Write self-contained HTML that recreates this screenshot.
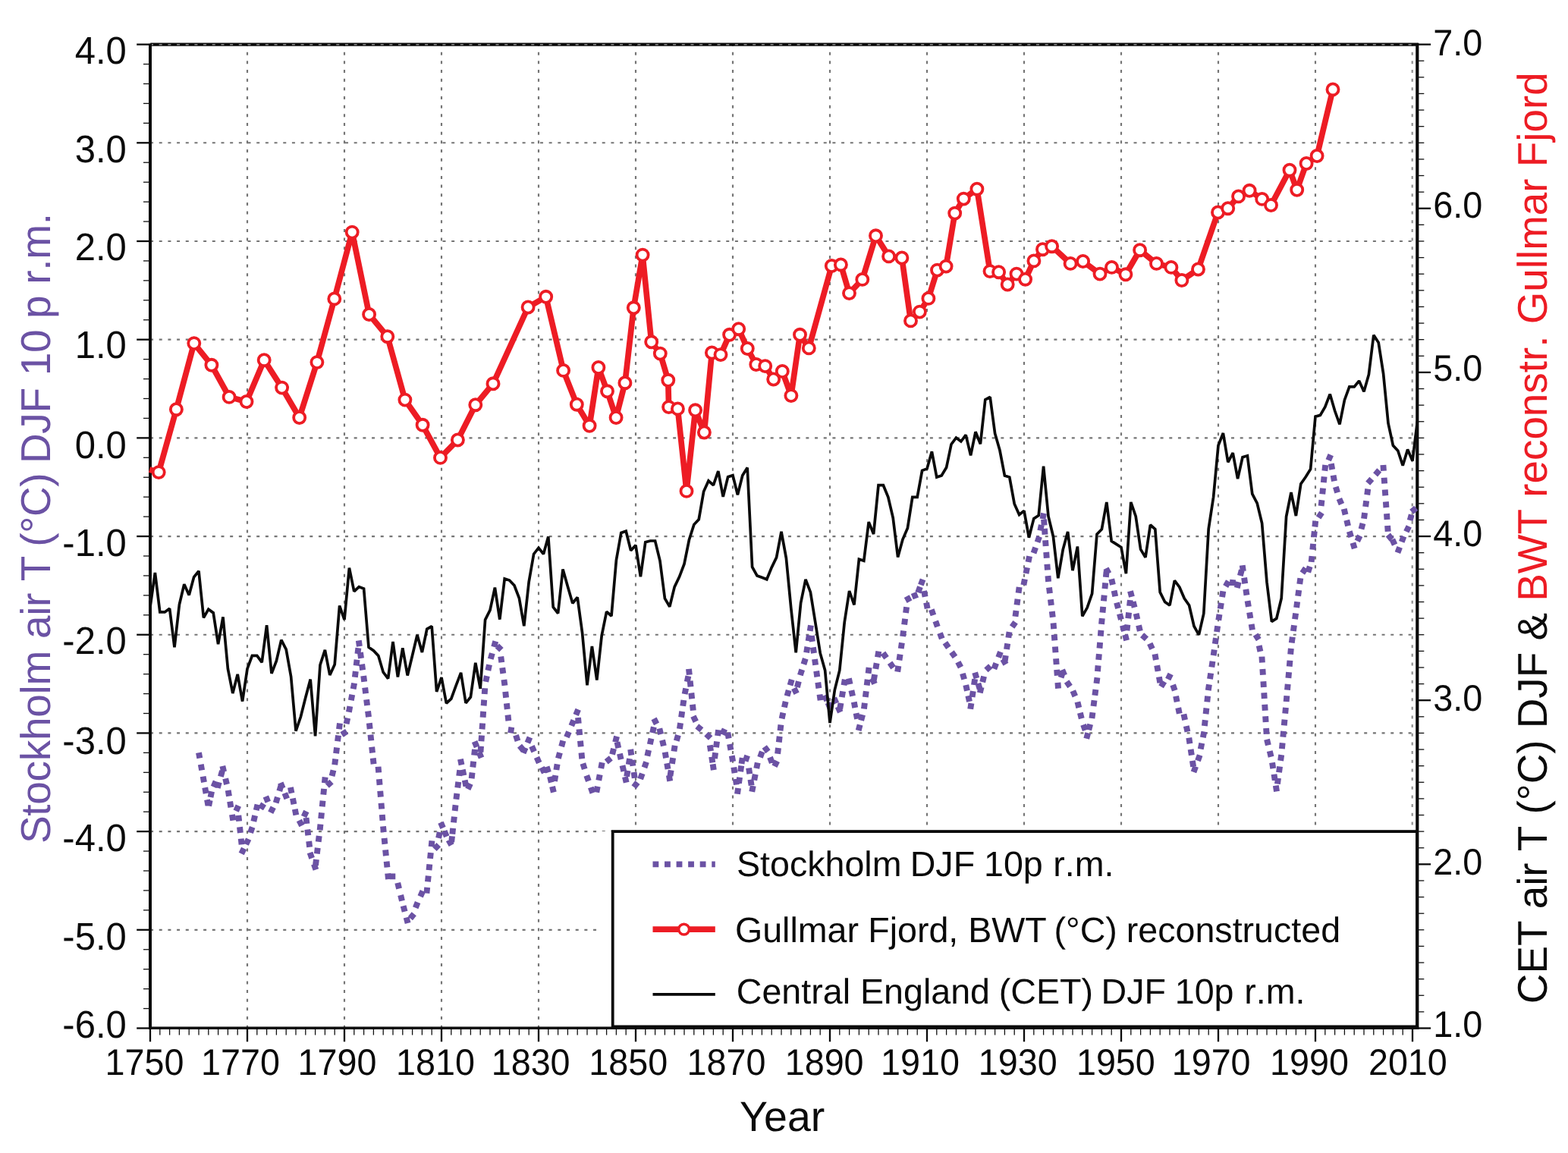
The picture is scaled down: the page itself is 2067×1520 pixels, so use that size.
<!DOCTYPE html>
<html lang="en"><head><meta charset="utf-8"><title>Winter temperatures: Stockholm, Central England and Gullmar Fjord</title>
<style>html,body{margin:0;padding:0;background:#fff}body{width:2067px;height:1520px;overflow:hidden}svg{display:block}text{font-family:"Liberation Sans",Arial,Helvetica,sans-serif;font-kerning:none;text-rendering:geometricPrecision}</style>
</head><body>
<svg width="2067" height="1520" viewBox="0 0 2067 1520">
<rect x="0" y="0" width="2067" height="1520" fill="#fff"/>
<g stroke="#757575" stroke-width="2.15" stroke-dasharray="4 7.68" fill="none">
<line x1="198.05" y1="58.60" x2="1868.3" y2="58.60"/>
<line x1="198.05" y1="188.29" x2="1868.3" y2="188.29"/>
<line x1="198.05" y1="317.98" x2="1868.3" y2="317.98"/>
<line x1="198.05" y1="447.67" x2="1868.3" y2="447.67"/>
<line x1="198.05" y1="577.36" x2="1868.3" y2="577.36"/>
<line x1="198.05" y1="707.05" x2="1868.3" y2="707.05"/>
<line x1="198.05" y1="836.74" x2="1868.3" y2="836.74"/>
<line x1="198.05" y1="966.43" x2="1868.3" y2="966.43"/>
<line x1="198.05" y1="1096.12" x2="1868.3" y2="1096.12"/>
<line x1="198.05" y1="1225.81" x2="1868.3" y2="1225.81"/>
</g>
<g stroke="#757575" stroke-width="2.15" stroke-dasharray="4 7.664" fill="none">
<line x1="326.00" y1="1355.7" x2="326.00" y2="58.6"/>
<line x1="454.00" y1="1355.7" x2="454.00" y2="58.6"/>
<line x1="582.00" y1="1355.7" x2="582.00" y2="58.6"/>
<line x1="710.00" y1="1355.7" x2="710.00" y2="58.6"/>
<line x1="838.00" y1="1355.7" x2="838.00" y2="58.6"/>
<line x1="966.00" y1="1355.7" x2="966.00" y2="58.6"/>
<line x1="1094.00" y1="1355.7" x2="1094.00" y2="58.6"/>
<line x1="1222.00" y1="1355.7" x2="1222.00" y2="58.6"/>
<line x1="1350.00" y1="1355.7" x2="1350.00" y2="58.6"/>
<line x1="1478.00" y1="1355.7" x2="1478.00" y2="58.6"/>
<line x1="1606.00" y1="1355.7" x2="1606.00" y2="58.6"/>
<line x1="1734.00" y1="1355.7" x2="1734.00" y2="58.6"/>
<line x1="1861.70" y1="1355.7" x2="1861.70" y2="58.6" stroke="#8e8e8e"/>
</g>
<line x1="198.2" y1="58.60" x2="1870.0" y2="58.60" stroke="#0a0a0a" stroke-width="4.4"/>
<line x1="198.0" y1="58.80" x2="1866.3" y2="58.80" stroke="#8a8a8a" stroke-width="1.6" stroke-dasharray="4 7.68"/>
<rect x="792.7" y="1096.0" width="17.0" height="257.9" fill="#fff"/>
<rect x="807.7" y="1096.1" width="1060.3" height="257.3" fill="#fff" stroke="#0a0a0a" stroke-width="3.8"/>
<g stroke="#0a0a0a" fill="none">
<line x1="198.00" y1="57.7" x2="198.00" y2="1357.1" stroke-width="4.0"/>
<line x1="1868.30" y1="57.0" x2="1868.30" y2="1357.1" stroke-width="4.2"/>
<line x1="196.0" y1="1355.25" x2="1870.4" y2="1355.25" stroke-width="3.7"/>
<line x1="180.2" y1="58.60" x2="198.0" y2="58.60" stroke-width="2.3"/>
<line x1="189.0" y1="84.54" x2="198.0" y2="84.54" stroke-width="1.3" stroke="#111"/>
<line x1="189.0" y1="110.48" x2="198.0" y2="110.48" stroke-width="1.3" stroke="#111"/>
<line x1="189.0" y1="136.41" x2="198.0" y2="136.41" stroke-width="1.3" stroke="#111"/>
<line x1="189.0" y1="162.35" x2="198.0" y2="162.35" stroke-width="1.3" stroke="#111"/>
<line x1="180.2" y1="188.29" x2="198.0" y2="188.29" stroke-width="2.3"/>
<line x1="189.0" y1="214.23" x2="198.0" y2="214.23" stroke-width="1.3" stroke="#111"/>
<line x1="189.0" y1="240.17" x2="198.0" y2="240.17" stroke-width="1.3" stroke="#111"/>
<line x1="189.0" y1="266.10" x2="198.0" y2="266.10" stroke-width="1.3" stroke="#111"/>
<line x1="189.0" y1="292.04" x2="198.0" y2="292.04" stroke-width="1.3" stroke="#111"/>
<line x1="180.2" y1="317.98" x2="198.0" y2="317.98" stroke-width="2.3"/>
<line x1="189.0" y1="343.92" x2="198.0" y2="343.92" stroke-width="1.3" stroke="#111"/>
<line x1="189.0" y1="369.86" x2="198.0" y2="369.86" stroke-width="1.3" stroke="#111"/>
<line x1="189.0" y1="395.79" x2="198.0" y2="395.79" stroke-width="1.3" stroke="#111"/>
<line x1="189.0" y1="421.73" x2="198.0" y2="421.73" stroke-width="1.3" stroke="#111"/>
<line x1="180.2" y1="447.67" x2="198.0" y2="447.67" stroke-width="2.3"/>
<line x1="189.0" y1="473.61" x2="198.0" y2="473.61" stroke-width="1.3" stroke="#111"/>
<line x1="189.0" y1="499.55" x2="198.0" y2="499.55" stroke-width="1.3" stroke="#111"/>
<line x1="189.0" y1="525.48" x2="198.0" y2="525.48" stroke-width="1.3" stroke="#111"/>
<line x1="189.0" y1="551.42" x2="198.0" y2="551.42" stroke-width="1.3" stroke="#111"/>
<line x1="180.2" y1="577.36" x2="198.0" y2="577.36" stroke-width="2.3"/>
<line x1="189.0" y1="603.30" x2="198.0" y2="603.30" stroke-width="1.3" stroke="#111"/>
<line x1="189.0" y1="629.24" x2="198.0" y2="629.24" stroke-width="1.3" stroke="#111"/>
<line x1="189.0" y1="655.17" x2="198.0" y2="655.17" stroke-width="1.3" stroke="#111"/>
<line x1="189.0" y1="681.11" x2="198.0" y2="681.11" stroke-width="1.3" stroke="#111"/>
<line x1="180.2" y1="707.05" x2="198.0" y2="707.05" stroke-width="2.3"/>
<line x1="189.0" y1="732.99" x2="198.0" y2="732.99" stroke-width="1.3" stroke="#111"/>
<line x1="189.0" y1="758.93" x2="198.0" y2="758.93" stroke-width="1.3" stroke="#111"/>
<line x1="189.0" y1="784.86" x2="198.0" y2="784.86" stroke-width="1.3" stroke="#111"/>
<line x1="189.0" y1="810.80" x2="198.0" y2="810.80" stroke-width="1.3" stroke="#111"/>
<line x1="180.2" y1="836.74" x2="198.0" y2="836.74" stroke-width="2.3"/>
<line x1="189.0" y1="862.68" x2="198.0" y2="862.68" stroke-width="1.3" stroke="#111"/>
<line x1="189.0" y1="888.62" x2="198.0" y2="888.62" stroke-width="1.3" stroke="#111"/>
<line x1="189.0" y1="914.55" x2="198.0" y2="914.55" stroke-width="1.3" stroke="#111"/>
<line x1="189.0" y1="940.49" x2="198.0" y2="940.49" stroke-width="1.3" stroke="#111"/>
<line x1="180.2" y1="966.43" x2="198.0" y2="966.43" stroke-width="2.3"/>
<line x1="189.0" y1="992.37" x2="198.0" y2="992.37" stroke-width="1.3" stroke="#111"/>
<line x1="189.0" y1="1018.31" x2="198.0" y2="1018.31" stroke-width="1.3" stroke="#111"/>
<line x1="189.0" y1="1044.24" x2="198.0" y2="1044.24" stroke-width="1.3" stroke="#111"/>
<line x1="189.0" y1="1070.18" x2="198.0" y2="1070.18" stroke-width="1.3" stroke="#111"/>
<line x1="180.2" y1="1096.12" x2="198.0" y2="1096.12" stroke-width="2.3"/>
<line x1="189.0" y1="1122.06" x2="198.0" y2="1122.06" stroke-width="1.3" stroke="#111"/>
<line x1="189.0" y1="1148.00" x2="198.0" y2="1148.00" stroke-width="1.3" stroke="#111"/>
<line x1="189.0" y1="1173.93" x2="198.0" y2="1173.93" stroke-width="1.3" stroke="#111"/>
<line x1="189.0" y1="1199.87" x2="198.0" y2="1199.87" stroke-width="1.3" stroke="#111"/>
<line x1="180.2" y1="1225.81" x2="198.0" y2="1225.81" stroke-width="2.3"/>
<line x1="189.0" y1="1251.75" x2="198.0" y2="1251.75" stroke-width="1.3" stroke="#111"/>
<line x1="189.0" y1="1277.69" x2="198.0" y2="1277.69" stroke-width="1.3" stroke="#111"/>
<line x1="189.0" y1="1303.62" x2="198.0" y2="1303.62" stroke-width="1.3" stroke="#111"/>
<line x1="189.0" y1="1329.56" x2="198.0" y2="1329.56" stroke-width="1.3" stroke="#111"/>
<line x1="180.2" y1="1355.50" x2="198.0" y2="1355.50" stroke-width="2.3"/>
<line x1="1868.3" y1="58.60" x2="1886.1" y2="58.60" stroke-width="2.3"/>
<line x1="1868.3" y1="80.21" x2="1877.3" y2="80.21" stroke-width="1.3" stroke="#111"/>
<line x1="1868.3" y1="101.83" x2="1877.3" y2="101.83" stroke-width="1.3" stroke="#111"/>
<line x1="1868.3" y1="123.44" x2="1877.3" y2="123.44" stroke-width="1.3" stroke="#111"/>
<line x1="1868.3" y1="145.06" x2="1877.3" y2="145.06" stroke-width="1.3" stroke="#111"/>
<line x1="1868.3" y1="166.68" x2="1877.3" y2="166.68" stroke-width="1.3" stroke="#111"/>
<line x1="1868.3" y1="188.29" x2="1877.3" y2="188.29" stroke-width="1.3" stroke="#111"/>
<line x1="1868.3" y1="209.91" x2="1877.3" y2="209.91" stroke-width="1.3" stroke="#111"/>
<line x1="1868.3" y1="231.52" x2="1877.3" y2="231.52" stroke-width="1.3" stroke="#111"/>
<line x1="1868.3" y1="253.14" x2="1877.3" y2="253.14" stroke-width="1.3" stroke="#111"/>
<line x1="1868.3" y1="274.75" x2="1886.1" y2="274.75" stroke-width="2.3"/>
<line x1="1868.3" y1="296.36" x2="1877.3" y2="296.36" stroke-width="1.3" stroke="#111"/>
<line x1="1868.3" y1="317.98" x2="1877.3" y2="317.98" stroke-width="1.3" stroke="#111"/>
<line x1="1868.3" y1="339.59" x2="1877.3" y2="339.59" stroke-width="1.3" stroke="#111"/>
<line x1="1868.3" y1="361.21" x2="1877.3" y2="361.21" stroke-width="1.3" stroke="#111"/>
<line x1="1868.3" y1="382.83" x2="1877.3" y2="382.83" stroke-width="1.3" stroke="#111"/>
<line x1="1868.3" y1="404.44" x2="1877.3" y2="404.44" stroke-width="1.3" stroke="#111"/>
<line x1="1868.3" y1="426.06" x2="1877.3" y2="426.06" stroke-width="1.3" stroke="#111"/>
<line x1="1868.3" y1="447.67" x2="1877.3" y2="447.67" stroke-width="1.3" stroke="#111"/>
<line x1="1868.3" y1="469.29" x2="1877.3" y2="469.29" stroke-width="1.3" stroke="#111"/>
<line x1="1868.3" y1="490.90" x2="1886.1" y2="490.90" stroke-width="2.3"/>
<line x1="1868.3" y1="512.51" x2="1877.3" y2="512.51" stroke-width="1.3" stroke="#111"/>
<line x1="1868.3" y1="534.13" x2="1877.3" y2="534.13" stroke-width="1.3" stroke="#111"/>
<line x1="1868.3" y1="555.75" x2="1877.3" y2="555.75" stroke-width="1.3" stroke="#111"/>
<line x1="1868.3" y1="577.36" x2="1877.3" y2="577.36" stroke-width="1.3" stroke="#111"/>
<line x1="1868.3" y1="598.98" x2="1877.3" y2="598.98" stroke-width="1.3" stroke="#111"/>
<line x1="1868.3" y1="620.59" x2="1877.3" y2="620.59" stroke-width="1.3" stroke="#111"/>
<line x1="1868.3" y1="642.21" x2="1877.3" y2="642.21" stroke-width="1.3" stroke="#111"/>
<line x1="1868.3" y1="663.82" x2="1877.3" y2="663.82" stroke-width="1.3" stroke="#111"/>
<line x1="1868.3" y1="685.44" x2="1877.3" y2="685.44" stroke-width="1.3" stroke="#111"/>
<line x1="1868.3" y1="707.05" x2="1886.1" y2="707.05" stroke-width="2.3"/>
<line x1="1868.3" y1="728.67" x2="1877.3" y2="728.67" stroke-width="1.3" stroke="#111"/>
<line x1="1868.3" y1="750.28" x2="1877.3" y2="750.28" stroke-width="1.3" stroke="#111"/>
<line x1="1868.3" y1="771.90" x2="1877.3" y2="771.90" stroke-width="1.3" stroke="#111"/>
<line x1="1868.3" y1="793.51" x2="1877.3" y2="793.51" stroke-width="1.3" stroke="#111"/>
<line x1="1868.3" y1="815.12" x2="1877.3" y2="815.12" stroke-width="1.3" stroke="#111"/>
<line x1="1868.3" y1="836.74" x2="1877.3" y2="836.74" stroke-width="1.3" stroke="#111"/>
<line x1="1868.3" y1="858.36" x2="1877.3" y2="858.36" stroke-width="1.3" stroke="#111"/>
<line x1="1868.3" y1="879.97" x2="1877.3" y2="879.97" stroke-width="1.3" stroke="#111"/>
<line x1="1868.3" y1="901.59" x2="1877.3" y2="901.59" stroke-width="1.3" stroke="#111"/>
<line x1="1868.3" y1="923.20" x2="1886.1" y2="923.20" stroke-width="2.3"/>
<line x1="1868.3" y1="944.82" x2="1877.3" y2="944.82" stroke-width="1.3" stroke="#111"/>
<line x1="1868.3" y1="966.43" x2="1877.3" y2="966.43" stroke-width="1.3" stroke="#111"/>
<line x1="1868.3" y1="988.04" x2="1877.3" y2="988.04" stroke-width="1.3" stroke="#111"/>
<line x1="1868.3" y1="1009.66" x2="1877.3" y2="1009.66" stroke-width="1.3" stroke="#111"/>
<line x1="1868.3" y1="1031.28" x2="1877.3" y2="1031.28" stroke-width="1.3" stroke="#111"/>
<line x1="1868.3" y1="1052.89" x2="1877.3" y2="1052.89" stroke-width="1.3" stroke="#111"/>
<line x1="1868.3" y1="1074.51" x2="1877.3" y2="1074.51" stroke-width="1.3" stroke="#111"/>
<line x1="1868.3" y1="1096.12" x2="1877.3" y2="1096.12" stroke-width="1.3" stroke="#111"/>
<line x1="1868.3" y1="1117.74" x2="1877.3" y2="1117.74" stroke-width="1.3" stroke="#111"/>
<line x1="1868.3" y1="1139.35" x2="1886.1" y2="1139.35" stroke-width="2.3"/>
<line x1="1868.3" y1="1160.97" x2="1877.3" y2="1160.97" stroke-width="1.3" stroke="#111"/>
<line x1="1868.3" y1="1182.58" x2="1877.3" y2="1182.58" stroke-width="1.3" stroke="#111"/>
<line x1="1868.3" y1="1204.20" x2="1877.3" y2="1204.20" stroke-width="1.3" stroke="#111"/>
<line x1="1868.3" y1="1225.81" x2="1877.3" y2="1225.81" stroke-width="1.3" stroke="#111"/>
<line x1="1868.3" y1="1247.42" x2="1877.3" y2="1247.42" stroke-width="1.3" stroke="#111"/>
<line x1="1868.3" y1="1269.04" x2="1877.3" y2="1269.04" stroke-width="1.3" stroke="#111"/>
<line x1="1868.3" y1="1290.65" x2="1877.3" y2="1290.65" stroke-width="1.3" stroke="#111"/>
<line x1="1868.3" y1="1312.27" x2="1877.3" y2="1312.27" stroke-width="1.3" stroke="#111"/>
<line x1="1868.3" y1="1333.88" x2="1877.3" y2="1333.88" stroke-width="1.3" stroke="#111"/>
<line x1="1868.3" y1="1355.50" x2="1886.1" y2="1355.50" stroke-width="2.3"/>
<line x1="198.00" y1="1355.5" x2="198.00" y2="1373.3" stroke-width="2.3"/>
<line x1="210.80" y1="1355.5" x2="210.80" y2="1364.5" stroke-width="1.3" stroke="#111"/>
<line x1="223.60" y1="1355.5" x2="223.60" y2="1364.5" stroke-width="1.3" stroke="#111"/>
<line x1="236.40" y1="1355.5" x2="236.40" y2="1364.5" stroke-width="1.3" stroke="#111"/>
<line x1="249.20" y1="1355.5" x2="249.20" y2="1364.5" stroke-width="1.3" stroke="#111"/>
<line x1="262.00" y1="1355.5" x2="262.00" y2="1364.5" stroke-width="1.3" stroke="#111"/>
<line x1="274.80" y1="1355.5" x2="274.80" y2="1364.5" stroke-width="1.3" stroke="#111"/>
<line x1="287.60" y1="1355.5" x2="287.60" y2="1364.5" stroke-width="1.3" stroke="#111"/>
<line x1="300.40" y1="1355.5" x2="300.40" y2="1364.5" stroke-width="1.3" stroke="#111"/>
<line x1="313.20" y1="1355.5" x2="313.20" y2="1364.5" stroke-width="1.3" stroke="#111"/>
<line x1="326.00" y1="1355.5" x2="326.00" y2="1373.3" stroke-width="2.3"/>
<line x1="338.80" y1="1355.5" x2="338.80" y2="1364.5" stroke-width="1.3" stroke="#111"/>
<line x1="351.60" y1="1355.5" x2="351.60" y2="1364.5" stroke-width="1.3" stroke="#111"/>
<line x1="364.40" y1="1355.5" x2="364.40" y2="1364.5" stroke-width="1.3" stroke="#111"/>
<line x1="377.20" y1="1355.5" x2="377.20" y2="1364.5" stroke-width="1.3" stroke="#111"/>
<line x1="390.00" y1="1355.5" x2="390.00" y2="1364.5" stroke-width="1.3" stroke="#111"/>
<line x1="402.80" y1="1355.5" x2="402.80" y2="1364.5" stroke-width="1.3" stroke="#111"/>
<line x1="415.60" y1="1355.5" x2="415.60" y2="1364.5" stroke-width="1.3" stroke="#111"/>
<line x1="428.40" y1="1355.5" x2="428.40" y2="1364.5" stroke-width="1.3" stroke="#111"/>
<line x1="441.20" y1="1355.5" x2="441.20" y2="1364.5" stroke-width="1.3" stroke="#111"/>
<line x1="454.00" y1="1355.5" x2="454.00" y2="1373.3" stroke-width="2.3"/>
<line x1="466.80" y1="1355.5" x2="466.80" y2="1364.5" stroke-width="1.3" stroke="#111"/>
<line x1="479.60" y1="1355.5" x2="479.60" y2="1364.5" stroke-width="1.3" stroke="#111"/>
<line x1="492.40" y1="1355.5" x2="492.40" y2="1364.5" stroke-width="1.3" stroke="#111"/>
<line x1="505.20" y1="1355.5" x2="505.20" y2="1364.5" stroke-width="1.3" stroke="#111"/>
<line x1="518.00" y1="1355.5" x2="518.00" y2="1364.5" stroke-width="1.3" stroke="#111"/>
<line x1="530.80" y1="1355.5" x2="530.80" y2="1364.5" stroke-width="1.3" stroke="#111"/>
<line x1="543.60" y1="1355.5" x2="543.60" y2="1364.5" stroke-width="1.3" stroke="#111"/>
<line x1="556.40" y1="1355.5" x2="556.40" y2="1364.5" stroke-width="1.3" stroke="#111"/>
<line x1="569.20" y1="1355.5" x2="569.20" y2="1364.5" stroke-width="1.3" stroke="#111"/>
<line x1="582.00" y1="1355.5" x2="582.00" y2="1373.3" stroke-width="2.3"/>
<line x1="594.80" y1="1355.5" x2="594.80" y2="1364.5" stroke-width="1.3" stroke="#111"/>
<line x1="607.60" y1="1355.5" x2="607.60" y2="1364.5" stroke-width="1.3" stroke="#111"/>
<line x1="620.40" y1="1355.5" x2="620.40" y2="1364.5" stroke-width="1.3" stroke="#111"/>
<line x1="633.20" y1="1355.5" x2="633.20" y2="1364.5" stroke-width="1.3" stroke="#111"/>
<line x1="646.00" y1="1355.5" x2="646.00" y2="1364.5" stroke-width="1.3" stroke="#111"/>
<line x1="658.80" y1="1355.5" x2="658.80" y2="1364.5" stroke-width="1.3" stroke="#111"/>
<line x1="671.60" y1="1355.5" x2="671.60" y2="1364.5" stroke-width="1.3" stroke="#111"/>
<line x1="684.40" y1="1355.5" x2="684.40" y2="1364.5" stroke-width="1.3" stroke="#111"/>
<line x1="697.20" y1="1355.5" x2="697.20" y2="1364.5" stroke-width="1.3" stroke="#111"/>
<line x1="710.00" y1="1355.5" x2="710.00" y2="1373.3" stroke-width="2.3"/>
<line x1="722.80" y1="1355.5" x2="722.80" y2="1364.5" stroke-width="1.3" stroke="#111"/>
<line x1="735.60" y1="1355.5" x2="735.60" y2="1364.5" stroke-width="1.3" stroke="#111"/>
<line x1="748.40" y1="1355.5" x2="748.40" y2="1364.5" stroke-width="1.3" stroke="#111"/>
<line x1="761.20" y1="1355.5" x2="761.20" y2="1364.5" stroke-width="1.3" stroke="#111"/>
<line x1="774.00" y1="1355.5" x2="774.00" y2="1364.5" stroke-width="1.3" stroke="#111"/>
<line x1="786.80" y1="1355.5" x2="786.80" y2="1364.5" stroke-width="1.3" stroke="#111"/>
<line x1="799.60" y1="1355.5" x2="799.60" y2="1364.5" stroke-width="1.3" stroke="#111"/>
<line x1="812.40" y1="1355.5" x2="812.40" y2="1364.5" stroke-width="1.3" stroke="#111"/>
<line x1="825.20" y1="1355.5" x2="825.20" y2="1364.5" stroke-width="1.3" stroke="#111"/>
<line x1="838.00" y1="1355.5" x2="838.00" y2="1373.3" stroke-width="2.3"/>
<line x1="850.80" y1="1355.5" x2="850.80" y2="1364.5" stroke-width="1.3" stroke="#111"/>
<line x1="863.60" y1="1355.5" x2="863.60" y2="1364.5" stroke-width="1.3" stroke="#111"/>
<line x1="876.40" y1="1355.5" x2="876.40" y2="1364.5" stroke-width="1.3" stroke="#111"/>
<line x1="889.20" y1="1355.5" x2="889.20" y2="1364.5" stroke-width="1.3" stroke="#111"/>
<line x1="902.00" y1="1355.5" x2="902.00" y2="1364.5" stroke-width="1.3" stroke="#111"/>
<line x1="914.80" y1="1355.5" x2="914.80" y2="1364.5" stroke-width="1.3" stroke="#111"/>
<line x1="927.60" y1="1355.5" x2="927.60" y2="1364.5" stroke-width="1.3" stroke="#111"/>
<line x1="940.40" y1="1355.5" x2="940.40" y2="1364.5" stroke-width="1.3" stroke="#111"/>
<line x1="953.20" y1="1355.5" x2="953.20" y2="1364.5" stroke-width="1.3" stroke="#111"/>
<line x1="966.00" y1="1355.5" x2="966.00" y2="1373.3" stroke-width="2.3"/>
<line x1="978.80" y1="1355.5" x2="978.80" y2="1364.5" stroke-width="1.3" stroke="#111"/>
<line x1="991.60" y1="1355.5" x2="991.60" y2="1364.5" stroke-width="1.3" stroke="#111"/>
<line x1="1004.40" y1="1355.5" x2="1004.40" y2="1364.5" stroke-width="1.3" stroke="#111"/>
<line x1="1017.20" y1="1355.5" x2="1017.20" y2="1364.5" stroke-width="1.3" stroke="#111"/>
<line x1="1030.00" y1="1355.5" x2="1030.00" y2="1364.5" stroke-width="1.3" stroke="#111"/>
<line x1="1042.80" y1="1355.5" x2="1042.80" y2="1364.5" stroke-width="1.3" stroke="#111"/>
<line x1="1055.60" y1="1355.5" x2="1055.60" y2="1364.5" stroke-width="1.3" stroke="#111"/>
<line x1="1068.40" y1="1355.5" x2="1068.40" y2="1364.5" stroke-width="1.3" stroke="#111"/>
<line x1="1081.20" y1="1355.5" x2="1081.20" y2="1364.5" stroke-width="1.3" stroke="#111"/>
<line x1="1094.00" y1="1355.5" x2="1094.00" y2="1373.3" stroke-width="2.3"/>
<line x1="1106.80" y1="1355.5" x2="1106.80" y2="1364.5" stroke-width="1.3" stroke="#111"/>
<line x1="1119.60" y1="1355.5" x2="1119.60" y2="1364.5" stroke-width="1.3" stroke="#111"/>
<line x1="1132.40" y1="1355.5" x2="1132.40" y2="1364.5" stroke-width="1.3" stroke="#111"/>
<line x1="1145.20" y1="1355.5" x2="1145.20" y2="1364.5" stroke-width="1.3" stroke="#111"/>
<line x1="1158.00" y1="1355.5" x2="1158.00" y2="1364.5" stroke-width="1.3" stroke="#111"/>
<line x1="1170.80" y1="1355.5" x2="1170.80" y2="1364.5" stroke-width="1.3" stroke="#111"/>
<line x1="1183.60" y1="1355.5" x2="1183.60" y2="1364.5" stroke-width="1.3" stroke="#111"/>
<line x1="1196.40" y1="1355.5" x2="1196.40" y2="1364.5" stroke-width="1.3" stroke="#111"/>
<line x1="1209.20" y1="1355.5" x2="1209.20" y2="1364.5" stroke-width="1.3" stroke="#111"/>
<line x1="1222.00" y1="1355.5" x2="1222.00" y2="1373.3" stroke-width="2.3"/>
<line x1="1234.80" y1="1355.5" x2="1234.80" y2="1364.5" stroke-width="1.3" stroke="#111"/>
<line x1="1247.60" y1="1355.5" x2="1247.60" y2="1364.5" stroke-width="1.3" stroke="#111"/>
<line x1="1260.40" y1="1355.5" x2="1260.40" y2="1364.5" stroke-width="1.3" stroke="#111"/>
<line x1="1273.20" y1="1355.5" x2="1273.20" y2="1364.5" stroke-width="1.3" stroke="#111"/>
<line x1="1286.00" y1="1355.5" x2="1286.00" y2="1364.5" stroke-width="1.3" stroke="#111"/>
<line x1="1298.80" y1="1355.5" x2="1298.80" y2="1364.5" stroke-width="1.3" stroke="#111"/>
<line x1="1311.60" y1="1355.5" x2="1311.60" y2="1364.5" stroke-width="1.3" stroke="#111"/>
<line x1="1324.40" y1="1355.5" x2="1324.40" y2="1364.5" stroke-width="1.3" stroke="#111"/>
<line x1="1337.20" y1="1355.5" x2="1337.20" y2="1364.5" stroke-width="1.3" stroke="#111"/>
<line x1="1350.00" y1="1355.5" x2="1350.00" y2="1373.3" stroke-width="2.3"/>
<line x1="1362.80" y1="1355.5" x2="1362.80" y2="1364.5" stroke-width="1.3" stroke="#111"/>
<line x1="1375.60" y1="1355.5" x2="1375.60" y2="1364.5" stroke-width="1.3" stroke="#111"/>
<line x1="1388.40" y1="1355.5" x2="1388.40" y2="1364.5" stroke-width="1.3" stroke="#111"/>
<line x1="1401.20" y1="1355.5" x2="1401.20" y2="1364.5" stroke-width="1.3" stroke="#111"/>
<line x1="1414.00" y1="1355.5" x2="1414.00" y2="1364.5" stroke-width="1.3" stroke="#111"/>
<line x1="1426.80" y1="1355.5" x2="1426.80" y2="1364.5" stroke-width="1.3" stroke="#111"/>
<line x1="1439.60" y1="1355.5" x2="1439.60" y2="1364.5" stroke-width="1.3" stroke="#111"/>
<line x1="1452.40" y1="1355.5" x2="1452.40" y2="1364.5" stroke-width="1.3" stroke="#111"/>
<line x1="1465.20" y1="1355.5" x2="1465.20" y2="1364.5" stroke-width="1.3" stroke="#111"/>
<line x1="1478.00" y1="1355.5" x2="1478.00" y2="1373.3" stroke-width="2.3"/>
<line x1="1490.80" y1="1355.5" x2="1490.80" y2="1364.5" stroke-width="1.3" stroke="#111"/>
<line x1="1503.60" y1="1355.5" x2="1503.60" y2="1364.5" stroke-width="1.3" stroke="#111"/>
<line x1="1516.40" y1="1355.5" x2="1516.40" y2="1364.5" stroke-width="1.3" stroke="#111"/>
<line x1="1529.20" y1="1355.5" x2="1529.20" y2="1364.5" stroke-width="1.3" stroke="#111"/>
<line x1="1542.00" y1="1355.5" x2="1542.00" y2="1364.5" stroke-width="1.3" stroke="#111"/>
<line x1="1554.80" y1="1355.5" x2="1554.80" y2="1364.5" stroke-width="1.3" stroke="#111"/>
<line x1="1567.60" y1="1355.5" x2="1567.60" y2="1364.5" stroke-width="1.3" stroke="#111"/>
<line x1="1580.40" y1="1355.5" x2="1580.40" y2="1364.5" stroke-width="1.3" stroke="#111"/>
<line x1="1593.20" y1="1355.5" x2="1593.20" y2="1364.5" stroke-width="1.3" stroke="#111"/>
<line x1="1606.00" y1="1355.5" x2="1606.00" y2="1373.3" stroke-width="2.3"/>
<line x1="1618.80" y1="1355.5" x2="1618.80" y2="1364.5" stroke-width="1.3" stroke="#111"/>
<line x1="1631.60" y1="1355.5" x2="1631.60" y2="1364.5" stroke-width="1.3" stroke="#111"/>
<line x1="1644.40" y1="1355.5" x2="1644.40" y2="1364.5" stroke-width="1.3" stroke="#111"/>
<line x1="1657.20" y1="1355.5" x2="1657.20" y2="1364.5" stroke-width="1.3" stroke="#111"/>
<line x1="1670.00" y1="1355.5" x2="1670.00" y2="1364.5" stroke-width="1.3" stroke="#111"/>
<line x1="1682.80" y1="1355.5" x2="1682.80" y2="1364.5" stroke-width="1.3" stroke="#111"/>
<line x1="1695.60" y1="1355.5" x2="1695.60" y2="1364.5" stroke-width="1.3" stroke="#111"/>
<line x1="1708.40" y1="1355.5" x2="1708.40" y2="1364.5" stroke-width="1.3" stroke="#111"/>
<line x1="1721.20" y1="1355.5" x2="1721.20" y2="1364.5" stroke-width="1.3" stroke="#111"/>
<line x1="1734.00" y1="1355.5" x2="1734.00" y2="1373.3" stroke-width="2.3"/>
<line x1="1746.80" y1="1355.5" x2="1746.80" y2="1364.5" stroke-width="1.3" stroke="#111"/>
<line x1="1759.60" y1="1355.5" x2="1759.60" y2="1364.5" stroke-width="1.3" stroke="#111"/>
<line x1="1772.40" y1="1355.5" x2="1772.40" y2="1364.5" stroke-width="1.3" stroke="#111"/>
<line x1="1785.20" y1="1355.5" x2="1785.20" y2="1364.5" stroke-width="1.3" stroke="#111"/>
<line x1="1798.00" y1="1355.5" x2="1798.00" y2="1364.5" stroke-width="1.3" stroke="#111"/>
<line x1="1810.80" y1="1355.5" x2="1810.80" y2="1364.5" stroke-width="1.3" stroke="#111"/>
<line x1="1823.60" y1="1355.5" x2="1823.60" y2="1364.5" stroke-width="1.3" stroke="#111"/>
<line x1="1836.40" y1="1355.5" x2="1836.40" y2="1364.5" stroke-width="1.3" stroke="#111"/>
<line x1="1849.20" y1="1355.5" x2="1849.20" y2="1364.5" stroke-width="1.3" stroke="#111"/>
<line x1="1862.00" y1="1355.5" x2="1862.00" y2="1373.3" stroke-width="2.3"/>
</g>
<path d="M262.00,992.20 L263.31,999.48 M264.77,1007.68 L266.15,1015.36 M267.63,1023.59 L269.00,1031.27 M270.23,1038.28 L271.59,1045.96 M273.04,1054.24 L274.40,1061.92 M275.14,1062.56 L276.70,1054.92 M277.51,1051.00 L279.07,1043.36 M279.36,1032.22 L286.54,1035.25 M286.75,1038.76 L288.83,1031.24 M290.91,1023.77 L292.99,1016.25 M293.34,1009.78 L295.11,1017.38 M297.21,1026.39 L298.98,1033.99 M300.71,1041.98 L301.98,1049.67 M303.12,1056.60 L304.39,1064.30 M305.99,1073.97 L307.26,1081.67 M311.16,1069.17 L314.34,1062.05 M314.33,1074.87 L315.19,1082.62 M316.03,1090.25 L316.88,1098.00 M317.72,1105.61 L318.57,1113.36 M318.23,1125.53 L321.63,1118.51 M324.24,1113.13 L327.64,1106.11 M330.09,1097.73 L332.66,1090.36 M334.34,1082.78 L336.10,1075.18 M337.74,1068.17 L339.50,1060.58 M343.58,1066.29 L347.61,1059.61 M350.35,1049.93 L353.29,1057.15 M356.72,1071.25 L360.23,1064.28 M363.70,1058.38 L365.91,1050.90 M368.30,1042.83 L370.52,1035.35 M369.81,1031.95 L372.73,1039.18 M375.33,1045.65 L378.24,1052.88 M382.94,1037.96 L384.49,1045.61 M385.91,1052.59 L387.45,1060.23 M388.78,1066.78 L390.33,1074.42 M394.40,1081.47 L397.93,1088.42 M400.54,1076.61 L403.86,1069.55 M403.55,1078.10 L404.46,1085.85 M405.36,1093.42 L406.28,1101.17 M407.22,1109.08 L408.14,1116.83 M408.56,1123.97 L411.13,1131.33 M413.86,1139.20 L416.42,1146.56 M416.01,1140.83 L416.94,1133.08 M417.84,1125.58 L418.78,1117.83 M419.76,1109.70 L420.69,1101.96 M421.67,1094.39 L422.45,1086.63 M423.20,1079.10 L423.97,1071.34 M424.76,1063.41 L425.53,1055.65 M426.33,1047.70 L427.10,1039.94 M427.87,1032.25 L428.64,1024.49 M431.53,1030.37 L436.75,1036.17 M437.58,1022.93 L439.48,1015.37 M441.23,1008.29 L442.18,1000.55 M443.09,993.16 L444.04,985.42 M445.05,977.19 L446.01,969.45 M447.01,961.27 L447.97,953.53 M451.73,963.08 L455.87,969.69 M456.61,954.22 L458.21,946.58 M459.89,938.79 L461.34,931.12 M462.80,923.33 L464.25,915.67 M465.64,908.28 L467.08,900.62 M467.88,892.79 L468.79,885.04 M469.66,877.50 L470.56,869.75 M471.46,862.08 L472.36,854.33 M472.83,844.41 L473.89,852.14 M474.98,860.12 L476.03,867.85 M477.09,875.61 L478.15,883.34 M479.23,891.02 L480.19,898.76 M481.16,906.51 L482.13,914.25 M483.13,922.28 L484.09,930.02 M485.04,937.60 L486.01,945.34 M486.85,953.26 L487.67,961.02 M488.47,968.56 L489.30,976.31 M490.19,984.74 L491.02,992.50 M491.76,999.52 L492.59,1007.27 M498.56,1010.74 L499.21,1018.51 M499.91,1027.06 L500.55,1034.83 M501.21,1042.79 L501.85,1050.57 M502.53,1058.71 L503.17,1066.48 M503.79,1074.02 L504.43,1081.80 M505.02,1089.30 L505.79,1097.07 M506.58,1104.98 L507.35,1112.74 M508.12,1120.47 L508.90,1128.23 M509.64,1135.71 L510.41,1143.48 M511.21,1151.47 L511.98,1159.23 M513.49,1155.40 L521.29,1155.40 M524.24,1163.92 L526.07,1171.50 M528.13,1180.04 L529.96,1187.62 M531.64,1194.29 L533.62,1201.84 M535.63,1209.51 L537.61,1217.05 M540.91,1210.80 L545.75,1204.68 M547.76,1196.81 L550.61,1189.55 M554.15,1181.83 L557.33,1174.71 M562.41,1177.57 L563.19,1169.81 M563.95,1162.32 L564.74,1154.56 M565.50,1147.08 L566.28,1139.32 M567.04,1131.83 L567.83,1124.07 M568.62,1116.19 L569.41,1108.43 M572.75,1113.88 L578.39,1119.26 M578.12,1104.80 L579.75,1097.17 M581.00,1084.21 L584.01,1091.40 M585.74,1095.53 L588.75,1102.73 M591.39,1107.33 L595.16,1114.16 M595.17,1110.08 L596.02,1102.32 M596.32,1099.65 L597.16,1091.89 M597.99,1084.31 L598.84,1076.56 M599.67,1068.97 L600.52,1061.22 M601.37,1053.68 L602.34,1045.94 M603.28,1038.44 L604.25,1030.70 M605.23,1022.88 L606.20,1015.14 M606.92,1000.76 L608.52,1008.39 M609.83,1014.66 L611.43,1022.29 M612.74,1028.55 L614.33,1036.19 M614.85,1035.00 L621.91,1038.31 M621.68,1026.21 L622.55,1018.45 M623.32,1011.55 L624.19,1003.79 M625.10,995.65 L625.97,987.90 M625.56,977.54 L628.57,984.73 M631.55,991.85 L634.56,999.05 M633.49,991.54 L634.02,983.76 M634.47,977.25 L635.00,969.47 M635.55,961.36 L636.08,953.58 M636.62,945.67 L637.15,937.89 M637.66,930.39 L638.19,922.61 M638.71,915.07 L639.24,907.28 M640.27,898.81 L641.86,891.17 M643.38,883.92 L644.98,876.28 M646.75,868.70 L648.85,861.19 M651.17,852.89 L653.27,845.37 M655.32,851.33 L660.92,856.76 M660.26,865.48 L661.30,873.21 M662.25,880.17 L663.29,887.90 M664.40,896.07 L665.44,903.80 M666.26,911.95 L667.08,919.71 M667.88,927.23 L668.71,934.98 M669.51,942.50 L670.33,950.26 M669.86,961.93 L677.57,963.13 M680.00,969.24 L682.46,976.64 M684.99,983.20 L690.02,989.17 M689.67,992.77 L692.71,985.59 M695.42,979.20 L698.46,972.02 M700.98,983.68 L704.09,990.83 M707.52,998.45 L710.70,1005.57 M714.08,1011.77 L717.70,1018.68 M718.14,1015.66 L725.59,1013.33 M725.05,1023.88 L726.82,1031.48 M728.08,1036.91 L729.85,1044.50 M731.07,1029.77 L732.28,1022.06 M733.39,1014.99 L734.60,1007.28 M735.91,999.76 L737.96,992.23 M740.17,984.10 L742.22,976.58 M746.92,971.85 L749.93,964.65 M753.27,956.65 L756.28,949.45 M759.18,942.54 L762.19,935.34 M762.00,946.03 L762.75,953.79 M763.48,961.32 L764.23,969.08 M764.96,976.61 L765.71,984.38 M766.49,992.49 L767.24,1000.25 M768.37,1006.47 L770.71,1013.91 M773.27,1022.32 L775.85,1029.68 M778.76,1038.02 L781.34,1045.39 M786.27,1044.47 L787.73,1036.80 M789.25,1028.82 L790.70,1021.16 M792.25,1013.02 L793.70,1005.35 M799.22,1004.30 L805.32,999.44 M807.12,994.45 L809.02,986.88 M811.15,978.37 L813.05,970.81 M813.53,978.42 L815.24,986.03 M816.94,993.63 L818.65,1001.24 M820.50,1009.22 L822.26,1016.82 M823.93,1024.03 L825.69,1031.63 M826.17,1023.62 L827.44,1015.93 M828.77,1007.87 L830.04,1000.18 M831.19,987.86 L832.31,995.57 M833.25,1002.04 L834.38,1009.76 M835.58,1018.00 L836.70,1025.72 M835.60,1037.67 L840.40,1031.53 M844.17,1027.06 L846.73,1019.69 M849.47,1011.83 L852.03,1004.46 M853.37,996.57 L855.08,988.96 M856.81,981.27 L858.49,973.65 M860.17,966.04 L861.85,958.42 M862.04,947.40 L865.55,954.37 M869.32,960.40 L871.15,967.98 M873.04,975.78 L874.87,983.36 M876.71,991.55 L878.02,999.24 M879.21,1006.26 L880.52,1013.95 M881.89,1022.06 L883.20,1029.75 M883.47,1023.02 L884.65,1015.30 M885.95,1006.80 L887.14,999.09 M888.45,990.52 L889.63,982.81 M891.78,976.59 L893.92,969.09 M895.94,960.85 L897.04,953.12 M898.11,945.60 L899.21,937.87 M900.23,930.72 L901.33,923.00 M902.64,915.05 L904.15,907.40 M905.82,898.88 L907.33,891.22 M907.99,881.92 L908.81,889.68 M909.66,897.69 L910.49,905.45 M911.35,913.50 L912.17,921.26 M912.97,928.79 L913.80,936.55 M913.91,944.15 L917.29,951.18 M918.77,957.36 L924.87,962.22 M930.98,967.63 L936.63,973.01 M935.83,982.42 L937.01,990.13 M938.16,997.67 L939.34,1005.38 M939.66,1007.44 L940.84,1015.15 M942.05,999.94 L943.08,992.21 M944.01,985.24 L945.05,977.51 M946.06,969.95 L947.09,962.22 M950.24,963.01 L957.30,966.32 M959.31,965.76 L960.68,973.44 M962.04,981.01 L963.42,988.68 M964.77,996.25 L966.15,1003.93 M967.32,1011.50 L968.53,1019.20 M969.72,1026.80 L970.93,1034.51 M972.00,1046.77 L973.08,1039.04 M973.99,1032.48 L975.07,1024.76 M976.12,1017.20 L977.20,1009.47 M977.56,1006.87 L978.64,999.15 M980.19,998.46 L987.61,1000.89 M987.10,1012.52 L988.28,1020.23 M989.44,1027.77 L990.62,1035.48 M991.25,1043.69 L992.75,1036.04 M994.25,1028.39 L995.74,1020.73 M997.24,1013.08 L998.74,1005.42 M1002.04,998.27 L1004.75,990.95 M1006.93,990.04 L1013.22,985.42 M1014.99,998.27 L1017.75,1005.56 M1019.19,1005.06 L1026.21,1008.47 M1025.11,993.74 L1025.98,985.99 M1026.81,978.52 L1027.68,970.77 M1028.53,963.19 L1029.40,955.44 M1030.62,947.34 L1032.32,939.73 M1033.94,932.51 L1035.64,924.90 M1037.54,917.50 L1039.68,910.00 M1041.58,903.39 L1043.72,895.89 M1046.70,907.15 L1050.11,914.17 M1050.88,905.90 L1052.86,898.36 M1054.89,890.17 L1057.22,882.73 M1059.42,875.72 L1061.76,868.28 M1063.13,860.45 L1064.37,852.75 M1065.60,845.12 L1066.84,837.42 M1067.71,831.97 L1068.95,824.27 M1069.82,838.11 L1070.88,845.84 M1071.91,853.40 L1072.96,861.13 M1074.05,869.09 L1075.10,876.82 M1076.20,884.64 L1077.28,892.36 M1078.29,899.66 L1079.37,907.39 M1080.51,915.55 L1081.59,923.27 M1087.19,916.41 L1090.20,923.61 M1091.45,926.59 L1094.46,933.79 M1099.29,920.02 L1102.47,927.14 M1104.53,931.73 L1107.72,938.85 M1107.19,934.52 L1108.49,926.83 M1109.80,919.14 L1111.10,911.45 M1112.47,903.41 L1113.77,895.72 M1118.91,894.38 L1120.59,902.00 M1122.37,910.09 L1124.04,917.70 M1125.78,925.43 L1127.23,933.09 M1128.58,940.16 L1130.03,947.82 M1131.68,963.07 L1133.65,955.52 M1135.15,949.76 L1137.12,942.22 M1138.95,934.55 L1139.89,926.80 M1140.84,918.90 L1141.78,911.16 M1142.71,903.43 L1143.64,895.68 M1144.61,887.70 L1145.54,879.96 M1149.98,894.22 L1152.99,901.41 M1151.83,896.74 L1153.13,889.05 M1154.34,881.93 L1155.64,874.24 M1156.98,866.33 L1158.28,858.64 M1164.02,860.86 L1168.51,867.24 M1173.09,873.79 L1177.54,880.19 M1183.18,885.65 L1184.33,877.93 M1185.47,870.30 L1186.62,862.58 M1187.74,855.03 L1188.89,847.32 M1190.10,839.11 L1191.09,831.38 M1192.12,823.40 L1193.11,815.67 M1194.08,808.10 L1195.07,800.36 M1193.70,791.48 L1200.54,787.73 M1202.31,786.70 L1209.54,783.76 M1210.25,781.05 L1212.94,773.73 M1213.86,771.23 L1216.55,763.91 M1218.07,779.08 L1219.57,786.73 M1221.11,794.59 L1222.62,802.24 M1227.83,803.70 L1230.45,811.04 M1233.26,818.88 L1235.88,826.23 M1239.01,834.58 L1241.72,841.90 M1245.89,847.25 L1250.35,853.65 M1254.50,859.61 L1258.99,865.99 M1262.87,872.74 L1266.47,879.66 M1268.99,887.96 L1271.13,895.46 M1273.28,903.06 L1274.93,910.68 M1276.34,917.21 L1277.98,924.83 M1279.23,934.76 L1280.39,927.04 M1281.61,918.84 L1282.77,911.12 M1283.98,902.98 L1285.14,895.26 M1285.16,886.69 L1287.39,894.16 M1289.41,900.91 L1291.65,908.38 M1291.79,913.42 L1293.62,905.84 M1295.22,899.23 L1297.05,891.65 M1299.94,883.37 L1305.72,878.13 M1310.40,881.73 L1313.19,874.44 M1316.17,866.69 L1318.96,859.40 M1322.09,869.06 L1325.96,875.83 M1324.59,871.86 L1325.77,864.14 M1327.02,856.01 L1328.20,848.30 M1329.35,840.75 L1330.53,833.04 M1334.12,826.58 L1338.61,820.20 M1338.45,812.79 L1339.49,805.06 M1340.49,797.50 L1341.52,789.76 M1342.59,781.80 L1343.62,774.07 M1349.37,771.19 L1350.92,763.54 M1352.45,755.98 L1354.00,748.33 M1355.50,740.97 L1357.04,733.32 M1362.53,729.08 L1365.10,721.71 M1367.55,714.72 L1370.12,707.36 M1371.31,699.58 L1372.86,691.94 M1374.41,684.29 L1375.95,676.65 M1376.06,684.65 L1376.62,692.43 M1376.95,696.90 L1377.52,704.68 M1378.07,712.21 L1378.64,719.99 M1379.21,727.91 L1379.78,735.69 M1380.37,743.79 L1380.94,751.57 M1381.49,759.09 L1382.06,766.87 M1383.00,774.42 L1383.94,782.16 M1384.93,790.34 L1385.86,798.08 M1386.83,806.06 L1387.76,813.80 M1388.57,821.34 L1389.15,829.12 M1389.71,836.63 L1390.29,844.40 M1390.90,852.52 L1391.48,860.30 M1392.07,868.22 L1392.65,875.99 M1393.16,882.87 L1393.74,890.64 M1394.43,899.85 L1395.01,907.63 M1398.58,893.33 L1401.03,885.92 M1400.23,883.08 L1403.24,890.27 M1406.12,898.58 L1410.58,904.98 M1414.32,910.67 L1417.33,917.87 M1420.45,925.43 L1422.29,933.01 M1423.90,939.71 L1425.74,947.29 M1428.08,955.35 L1430.65,962.71 M1432.24,973.69 L1434.21,966.14 M1435.20,962.36 L1437.17,954.81 M1439.41,946.95 L1440.42,939.21 M1441.49,931.04 L1442.50,923.31 M1443.36,916.80 L1444.37,909.06 M1445.44,900.89 L1446.45,893.16 M1446.94,885.19 L1447.58,877.42 M1448.20,869.91 L1448.85,862.14 M1449.47,854.60 L1450.11,846.83 M1450.78,838.67 L1451.43,830.89 M1452.04,822.98 L1452.76,815.22 M1453.47,807.68 L1454.20,799.92 M1454.90,792.41 L1455.63,784.64 M1456.43,776.10 L1457.16,768.33 M1457.86,760.84 L1458.59,753.07 M1457.97,749.23 L1461.60,756.13 M1465.26,763.29 L1466.91,770.91 M1468.58,778.62 L1470.23,786.24 M1472.08,794.42 L1474.05,801.97 M1475.93,809.17 L1477.90,816.71 M1479.91,824.38 L1481.89,831.93 M1483.14,836.68 L1485.12,844.23 M1485.51,831.28 L1486.35,823.52 M1487.24,815.25 L1488.08,807.49 M1489.01,798.94 L1489.85,791.19 M1489.98,779.25 L1491.95,786.79 M1493.64,793.27 L1495.61,800.81 M1497.63,808.83 L1499.34,816.44 M1501.11,824.31 L1502.82,831.92 M1505.60,837.18 L1511.43,842.37 M1515.76,848.27 L1518.95,855.39 M1522.49,862.26 L1523.86,869.94 M1525.18,877.26 L1526.55,884.93 M1527.90,892.43 L1529.27,900.11 M1529.35,899.79 L1535.96,903.93 M1539.67,895.56 L1543.16,888.58 M1546.15,902.84 L1548.71,910.20 M1550.10,917.67 L1551.64,925.31 M1553.22,933.12 L1554.77,940.76 M1560.44,941.47 L1562.09,949.10 M1563.80,957.05 L1565.45,964.67 M1567.31,972.72 L1568.49,980.43 M1569.65,987.97 L1570.83,995.68 M1571.93,1002.88 L1573.11,1010.59 M1573.48,1017.82 L1576.17,1010.50 M1578.99,1002.83 L1581.68,995.51 M1582.74,987.45 L1584.29,979.80 M1585.82,972.24 L1587.37,964.59 M1587.91,957.00 L1588.73,949.24 M1589.58,941.29 L1590.40,933.54 M1591.26,925.41 L1592.09,917.66 M1592.77,910.10 L1593.92,902.39 M1595.00,895.18 L1596.15,887.47 M1597.34,879.49 L1598.50,871.78 M1599.63,864.17 L1600.73,856.45 M1601.81,848.90 L1602.91,841.17 M1604.07,833.02 L1605.17,825.30 M1606.29,817.69 L1607.50,809.98 M1608.66,802.61 L1609.87,794.91 M1611.09,787.11 L1612.30,779.41 M1615.66,773.04 L1619.51,766.25 M1621.01,767.71 L1628.77,768.43 M1630.73,774.91 L1632.71,767.36 M1634.86,759.12 L1636.83,751.57 M1637.74,745.29 L1638.86,753.01 M1640.12,761.62 L1641.24,769.34 M1642.35,776.92 L1643.47,784.63 M1644.59,792.18 L1645.87,799.87 M1647.12,807.46 L1648.39,815.16 M1649.66,822.78 L1650.93,830.47 M1655.11,836.57 L1659.25,843.17 M1659.72,851.15 L1661.42,858.77 M1663.43,865.62 L1663.90,873.41 M1664.41,881.96 L1664.88,889.75 M1665.40,898.26 L1665.86,906.04 M1666.29,913.15 L1666.76,920.94 M1667.24,928.86 L1667.71,936.65 M1668.16,944.14 L1668.63,951.93 M1669.12,960.06 L1669.59,967.84 M1670.05,974.79 L1671.88,982.37 M1673.76,990.18 L1675.59,997.76 M1677.08,1005.41 L1678.28,1013.11 M1679.48,1020.74 L1680.69,1028.45 M1681.81,1035.59 L1683.02,1043.29 M1683.95,1033.47 L1685.00,1025.75 M1686.04,1018.18 L1687.09,1010.45 M1688.12,1002.89 L1689.18,995.16 M1689.92,987.19 L1690.64,979.42 M1691.35,971.71 L1692.06,963.94 M1692.76,956.41 L1693.48,948.64 M1694.21,940.70 L1694.92,932.94 M1695.65,925.02 L1696.34,917.25 M1697.02,909.55 L1697.71,901.78 M1698.41,893.84 L1699.09,886.07 M1699.76,878.54 L1700.45,870.77 M1701.17,862.61 L1701.86,854.84 M1702.77,847.52 L1703.83,839.80 M1704.90,831.98 L1705.95,824.25 M1707.04,816.29 L1708.09,808.56 M1709.11,800.99 L1710.14,793.26 M1711.15,785.70 L1712.19,777.97 M1713.25,770.00 L1714.28,762.27 M1716.82,755.49 L1721.28,749.09 M1721.77,749.38 L1729.22,751.70 M1728.65,740.91 L1729.44,733.15 M1730.32,724.54 L1731.11,716.78 M1731.99,708.17 L1732.78,700.41 M1733.38,694.52 L1734.17,686.76 M1738.07,682.35 L1742.43,675.88 M1741.62,667.03 L1742.42,659.27 M1743.24,651.30 L1744.04,643.54 M1744.81,636.15 L1745.61,628.39 M1746.39,620.77 L1747.19,613.01 M1751.17,606.77 L1754.28,599.62 M1754.84,611.29 L1756.22,618.97 M1757.58,626.62 L1758.96,634.30 M1760.82,641.89 L1763.09,649.35 M1765.39,657.48 L1768.48,664.64 M1771.74,670.94 L1773.55,678.53 M1775.27,685.74 L1777.09,693.32 M1778.80,700.50 L1781.07,707.96 M1783.42,715.66 L1785.69,723.12 M1789.26,713.19 L1792.68,706.19 M1794.49,697.49 L1796.48,689.94 M1798.05,683.82 L1799.07,676.08 M1800.14,668.02 L1801.16,660.29 M1802.21,652.37 L1803.23,644.64 M1803.19,637.19 L1808.30,631.29 M1813.06,625.82 L1818.20,619.96 M1823.40,612.96 L1823.95,620.74 M1824.60,629.79 L1825.16,637.57 M1825.73,645.58 L1826.29,653.36 M1826.86,661.36 L1827.41,669.14 M1827.99,677.13 L1828.54,684.91 M1829.11,692.91 L1829.67,700.69 M1829.81,705.06 L1834.68,711.15 M1835.37,711.02 L1838.58,718.13 M1842.40,728.57 L1845.15,721.27 M1847.72,714.43 L1850.47,707.13 M1853.87,700.87 L1857.27,693.85 M1858.68,685.96 L1860.72,678.43 M1860.73,674.76 L1866.73,669.78" fill="none" stroke="#6B52A4" stroke-width="7.9" stroke-linejoin="bevel"/>
<polyline points="198.0,800.1 204.4,754.9 210.8,806.9 217.2,806.9 223.6,802.2 230.0,853.2 236.4,797.1 242.8,770.2 249.2,784.4 255.6,760.8 262.0,752.8 268.4,814.4 274.8,803.2 281.2,807.9 287.6,849.1 294.0,813.4 300.4,881.7 306.8,914.0 313.2,888.9 319.6,924.6 326.0,881.7 332.4,864.4 338.8,864.4 345.2,873.2 351.6,824.2 358.0,887.8 364.4,871.1 370.8,843.6 377.2,856.2 383.6,891.9 390.0,963.7 396.4,945.0 402.8,919.5 409.2,895.6 415.6,970.4 422.0,876.6 428.4,856.8 434.8,889.9 441.2,876.0 447.6,798.5 454.0,816.9 460.4,748.7 466.8,779.7 473.2,773.6 479.6,776.1 486.0,853.2 492.4,857.7 498.8,864.4 505.2,886.2 511.6,894.6 518.0,846.0 524.4,892.5 530.8,854.4 537.2,890.5 543.6,864.0 550.0,837.0 556.4,859.9 562.8,829.3 569.2,825.6 575.6,911.9 582.0,893.1 588.4,927.2 594.8,921.1 601.2,903.7 607.6,886.8 614.0,926.8 620.4,919.0 626.8,873.8 633.2,907.8 639.6,817.1 646.0,804.4 652.4,774.6 658.8,816.6 665.2,763.0 671.6,765.0 678.0,771.8 684.4,788.5 690.8,825.2 697.2,767.1 703.6,730.4 710.0,722.2 716.4,730.4 722.8,707.5 729.2,800.3 735.6,808.5 742.0,750.4 748.4,773.2 754.8,795.2 761.2,787.5 767.6,834.4 774.0,903.3 780.4,852.1 786.8,896.6 793.2,837.9 799.6,806.4 806.0,812.0 812.4,738.5 818.8,702.4 825.2,700.2 831.6,725.7 838.0,718.7 844.4,760.3 850.8,714.8 857.2,713.0 863.6,713.0 870.0,739.3 876.4,788.9 882.8,799.7 889.2,773.6 895.6,760.3 902.0,743.4 908.4,711.8 914.8,691.6 921.2,684.8 927.6,648.1 934.0,633.9 940.4,639.6 946.8,621.0 953.2,654.9 959.6,628.8 966.0,626.7 972.4,652.2 978.8,626.7 985.2,616.5 991.6,747.5 998.0,758.9 1004.4,761.3 1010.8,763.8 1017.2,748.1 1023.6,734.8 1030.0,700.8 1036.4,735.8 1042.8,802.1 1049.2,860.3 1055.6,795.0 1062.0,763.8 1068.4,780.7 1074.8,820.5 1081.2,860.9 1087.6,883.7 1094.0,953.1 1100.4,909.3 1106.8,883.7 1113.2,820.5 1119.6,779.0 1126.0,797.4 1132.4,737.2 1138.8,739.2 1145.2,688.1 1151.6,704.0 1158.0,639.7 1164.4,639.7 1170.8,655.4 1177.2,682.5 1183.6,734.6 1190.0,711.1 1196.4,696.2 1202.8,655.4 1209.2,655.4 1215.6,620.3 1222.0,617.9 1228.4,595.3 1234.8,629.1 1241.2,626.9 1247.6,616.3 1254.0,585.7 1260.4,577.1 1266.8,582.0 1273.2,573.4 1279.6,600.3 1286.0,569.3 1292.4,585.3 1298.8,526.9 1305.2,523.5 1311.6,571.4 1318.0,593.8 1324.4,627.1 1330.8,629.1 1337.2,664.2 1343.6,678.5 1350.0,673.4 1356.4,708.7 1362.8,683.6 1369.2,679.5 1375.6,614.8 1382.0,680.7 1388.4,707.2 1394.8,762.3 1401.2,724.6 1407.6,701.1 1414.0,752.1 1420.4,720.5 1426.8,812.3 1433.2,801.1 1439.6,782.7 1446.0,704.2 1452.4,697.7 1458.8,662.0 1465.2,713.4 1471.6,717.4 1478.0,721.5 1484.4,756.2 1490.8,662.0 1497.2,680.7 1503.6,724.2 1510.0,734.8 1516.4,692.0 1522.8,697.7 1529.2,780.7 1535.6,793.5 1542.0,798.0 1548.4,765.4 1554.8,773.9 1561.2,788.8 1567.6,798.0 1574.0,825.5 1580.4,836.8 1586.8,808.8 1593.2,697.1 1599.6,655.2 1606.0,587.3 1612.4,571.0 1618.8,609.3 1625.2,597.1 1631.6,631.2 1638.0,602.8 1644.4,600.8 1650.8,651.2 1657.2,663.4 1663.6,689.9 1670.0,767.4 1676.4,819.4 1682.8,815.3 1689.2,788.8 1695.6,681.1 1702.0,649.1 1708.4,680.0 1714.8,637.9 1721.2,628.8 1727.6,618.5 1734.0,549.1 1740.4,547.4 1746.8,536.4 1753.2,519.6 1759.6,541.5 1766.0,559.4 1772.4,527.4 1778.8,509.9 1785.2,509.9 1791.6,502.1 1798.0,516.2 1804.4,493.7 1810.8,441.7 1817.2,451.6 1823.6,492.6 1830.0,557.9 1836.4,587.4 1842.8,594.1 1849.2,613.7 1855.6,592.6 1862.0,607.4 1868.4,555.8" fill="none" stroke="#0a0a0a" stroke-width="3.7" stroke-linejoin="miter" stroke-miterlimit="1.7"/>
<polyline points="197.0,619.0 209.2,622.6 232.4,539.7 255.8,452.6 278.9,481.3 302.1,523.4 325.0,529.5 348.2,474.7 371.6,511.1 394.7,550.5 417.9,477.6 440.8,393.9 464.2,306.1 486.6,414.5 510.8,443.7 533.9,527.1 557.1,560.3 580.5,603.4 603.4,580.0 626.8,533.7 650.0,505.8 696.1,405.0 719.7,391.3 742.6,488.4 760.3,533.2 777.1,561.3 788.9,484.5 800.5,515.8 812.1,550.5 823.9,504.7 835.3,405.8 847.1,336.1 858.7,450.8 870.3,466.1 880.8,501.3 881.6,536.6 893.4,538.9 905.0,647.4 916.6,540.8 928.4,570.0 938.4,465.0 950.0,467.6 961.6,441.3 973.7,433.7 985.3,459.5 996.8,480.5 1008.7,482.6 1019.7,500.0 1031.3,489.5 1042.9,521.6 1054.5,441.3 1066.3,458.9 1096.3,350.5 1108.4,348.9 1119.5,386.6 1136.8,368.4 1154.5,310.8 1171.6,337.9 1188.9,340.0 1200.5,422.9 1212.4,411.1 1223.9,393.4 1235.5,356.1 1247.1,351.1 1258.7,281.1 1270.3,262.1 1287.9,249.2 1305.0,357.6 1316.6,358.7 1328.2,375.0 1340.0,361.1 1351.6,368.2 1362.9,343.9 1374.5,328.7 1386.6,324.7 1411.1,347.4 1427.6,344.5 1450.0,361.1 1465.5,352.4 1483.9,361.8 1502.6,329.7 1524.5,347.4 1543.9,352.4 1557.9,369.5 1579.5,355.0 1605.5,280.0 1618.7,274.7 1632.6,258.9 1647.1,251.3 1663.7,262.4 1675.5,270.5 1700.0,224.2 1709.7,250.3 1722.1,215.5 1736.1,205.5 1757.0,117.9" fill="none" stroke="#ED1C24" stroke-width="7.7" stroke-linejoin="round"/>
<g fill="#fff" stroke="#ED1C24" stroke-width="3.8">
<circle cx="209.2" cy="622.6" r="7.55"/>
<circle cx="232.4" cy="539.7" r="7.55"/>
<circle cx="255.8" cy="452.6" r="7.55"/>
<circle cx="278.9" cy="481.3" r="7.55"/>
<circle cx="302.1" cy="523.4" r="7.55"/>
<circle cx="325.0" cy="529.5" r="7.55"/>
<circle cx="348.2" cy="474.7" r="7.55"/>
<circle cx="371.6" cy="511.1" r="7.55"/>
<circle cx="394.7" cy="550.5" r="7.55"/>
<circle cx="417.9" cy="477.6" r="7.55"/>
<circle cx="440.8" cy="393.9" r="7.55"/>
<circle cx="464.2" cy="306.1" r="7.55"/>
<circle cx="486.6" cy="414.5" r="7.55"/>
<circle cx="510.8" cy="443.7" r="7.55"/>
<circle cx="533.9" cy="527.1" r="7.55"/>
<circle cx="557.1" cy="560.3" r="7.55"/>
<circle cx="580.5" cy="603.4" r="7.55"/>
<circle cx="603.4" cy="580.0" r="7.55"/>
<circle cx="626.8" cy="533.7" r="7.55"/>
<circle cx="650.0" cy="505.8" r="7.55"/>
<circle cx="696.1" cy="405.0" r="7.55"/>
<circle cx="719.7" cy="391.3" r="7.55"/>
<circle cx="742.6" cy="488.4" r="7.55"/>
<circle cx="760.3" cy="533.2" r="7.55"/>
<circle cx="777.1" cy="561.3" r="7.55"/>
<circle cx="788.9" cy="484.5" r="7.55"/>
<circle cx="800.5" cy="515.8" r="7.55"/>
<circle cx="812.1" cy="550.5" r="7.55"/>
<circle cx="823.9" cy="504.7" r="7.55"/>
<circle cx="835.3" cy="405.8" r="7.55"/>
<circle cx="847.1" cy="336.1" r="7.55"/>
<circle cx="858.7" cy="450.8" r="7.55"/>
<circle cx="870.3" cy="466.1" r="7.55"/>
<circle cx="880.8" cy="501.3" r="7.55"/>
<circle cx="881.6" cy="536.6" r="7.55"/>
<circle cx="893.4" cy="538.9" r="7.55"/>
<circle cx="905.0" cy="647.4" r="7.55"/>
<circle cx="916.6" cy="540.8" r="7.55"/>
<circle cx="928.4" cy="570.0" r="7.55"/>
<circle cx="938.4" cy="465.0" r="7.55"/>
<circle cx="950.0" cy="467.6" r="7.55"/>
<circle cx="961.6" cy="441.3" r="7.55"/>
<circle cx="973.7" cy="433.7" r="7.55"/>
<circle cx="985.3" cy="459.5" r="7.55"/>
<circle cx="996.8" cy="480.5" r="7.55"/>
<circle cx="1008.7" cy="482.6" r="7.55"/>
<circle cx="1019.7" cy="500.0" r="7.55"/>
<circle cx="1031.3" cy="489.5" r="7.55"/>
<circle cx="1042.9" cy="521.6" r="7.55"/>
<circle cx="1054.5" cy="441.3" r="7.55"/>
<circle cx="1066.3" cy="458.9" r="7.55"/>
<circle cx="1096.3" cy="350.5" r="7.55"/>
<circle cx="1108.4" cy="348.9" r="7.55"/>
<circle cx="1119.5" cy="386.6" r="7.55"/>
<circle cx="1136.8" cy="368.4" r="7.55"/>
<circle cx="1154.5" cy="310.8" r="7.55"/>
<circle cx="1171.6" cy="337.9" r="7.55"/>
<circle cx="1188.9" cy="340.0" r="7.55"/>
<circle cx="1200.5" cy="422.9" r="7.55"/>
<circle cx="1212.4" cy="411.1" r="7.55"/>
<circle cx="1223.9" cy="393.4" r="7.55"/>
<circle cx="1235.5" cy="356.1" r="7.55"/>
<circle cx="1247.1" cy="351.1" r="7.55"/>
<circle cx="1258.7" cy="281.1" r="7.55"/>
<circle cx="1270.3" cy="262.1" r="7.55"/>
<circle cx="1287.9" cy="249.2" r="7.55"/>
<circle cx="1305.0" cy="357.6" r="7.55"/>
<circle cx="1316.6" cy="358.7" r="7.55"/>
<circle cx="1328.2" cy="375.0" r="7.55"/>
<circle cx="1340.0" cy="361.1" r="7.55"/>
<circle cx="1351.6" cy="368.2" r="7.55"/>
<circle cx="1362.9" cy="343.9" r="7.55"/>
<circle cx="1374.5" cy="328.7" r="7.55"/>
<circle cx="1386.6" cy="324.7" r="7.55"/>
<circle cx="1411.1" cy="347.4" r="7.55"/>
<circle cx="1427.6" cy="344.5" r="7.55"/>
<circle cx="1450.0" cy="361.1" r="7.55"/>
<circle cx="1465.5" cy="352.4" r="7.55"/>
<circle cx="1483.9" cy="361.8" r="7.55"/>
<circle cx="1502.6" cy="329.7" r="7.55"/>
<circle cx="1524.5" cy="347.4" r="7.55"/>
<circle cx="1543.9" cy="352.4" r="7.55"/>
<circle cx="1557.9" cy="369.5" r="7.55"/>
<circle cx="1579.5" cy="355.0" r="7.55"/>
<circle cx="1605.5" cy="280.0" r="7.55"/>
<circle cx="1618.7" cy="274.7" r="7.55"/>
<circle cx="1632.6" cy="258.9" r="7.55"/>
<circle cx="1647.1" cy="251.3" r="7.55"/>
<circle cx="1663.7" cy="262.4" r="7.55"/>
<circle cx="1675.5" cy="270.5" r="7.55"/>
<circle cx="1700.0" cy="224.2" r="7.55"/>
<circle cx="1709.7" cy="250.3" r="7.55"/>
<circle cx="1722.1" cy="215.5" r="7.55"/>
<circle cx="1736.1" cy="205.5" r="7.55"/>
<circle cx="1757.0" cy="117.9" r="7.55"/>
</g>
<g fill="#0a0a0a">
<text transform="translate(166.8 84.3) scale(0.9615 1)" font-size="50.96" text-anchor="end">4.0</text>
<text transform="translate(166.8 213.9) scale(0.9615 1)" font-size="50.96" text-anchor="end">3.0</text>
<text transform="translate(166.8 342.7) scale(0.9615 1)" font-size="50.96" text-anchor="end">2.0</text>
<text transform="translate(166.8 472.0) scale(0.9615 1)" font-size="50.96" text-anchor="end">1.0</text>
<text transform="translate(166.8 603.5) scale(0.9615 1)" font-size="50.96" text-anchor="end">0.0</text>
<text transform="translate(166.8 732.8) scale(0.9615 1)" font-size="50.96" text-anchor="end">-1.0</text>
<text transform="translate(166.8 861.9) scale(0.9615 1)" font-size="50.96" text-anchor="end">-2.0</text>
<text transform="translate(166.8 993.9) scale(0.9615 1)" font-size="50.96" text-anchor="end">-3.0</text>
<text transform="translate(166.8 1122.2) scale(0.9615 1)" font-size="50.96" text-anchor="end">-4.0</text>
<text transform="translate(166.8 1252.3) scale(0.9615 1)" font-size="50.96" text-anchor="end">-5.0</text>
<text transform="translate(166.8 1368.0) scale(0.9615 1)" font-size="50.96" text-anchor="end">-6.0</text>
<text transform="translate(1889.2 72.9) scale(0.9615 1)" font-size="48.67" text-anchor="start">7.0</text>
<text transform="translate(1889.2 286.9) scale(0.9615 1)" font-size="48.67" text-anchor="start">6.0</text>
<text transform="translate(1889.2 502.2) scale(0.9615 1)" font-size="48.67" text-anchor="start">5.0</text>
<text transform="translate(1889.2 719.6) scale(0.9615 1)" font-size="48.67" text-anchor="start">4.0</text>
<text transform="translate(1889.2 936.5) scale(0.9615 1)" font-size="48.67" text-anchor="start">3.0</text>
<text transform="translate(1889.2 1153.0) scale(0.9615 1)" font-size="48.67" text-anchor="start">2.0</text>
<text transform="translate(1889.2 1367.1) scale(0.9615 1)" font-size="48.67" text-anchor="start">1.0</text>
<text transform="translate(242.4 1417.2) scale(0.9615 1)" font-size="48.57" text-anchor="end">1750</text>
<text transform="translate(368.9 1417.2) scale(0.9615 1)" font-size="48.57" text-anchor="end">1770</text>
<text transform="translate(496.5 1417.2) scale(0.9615 1)" font-size="48.57" text-anchor="end">1790</text>
<text transform="translate(626.0 1417.2) scale(0.9615 1)" font-size="48.57" text-anchor="end">1810</text>
<text transform="translate(751.6 1417.2) scale(0.9615 1)" font-size="48.57" text-anchor="end">1830</text>
<text transform="translate(880.2 1417.2) scale(0.9615 1)" font-size="48.57" text-anchor="end">1850</text>
<text transform="translate(1009.5 1417.2) scale(0.9615 1)" font-size="48.57" text-anchor="end">1870</text>
<text transform="translate(1138.6 1417.2) scale(0.9615 1)" font-size="48.57" text-anchor="end">1890</text>
<text transform="translate(1264.9 1417.2) scale(0.9615 1)" font-size="48.57" text-anchor="end">1910</text>
<text transform="translate(1393.7 1417.2) scale(0.9615 1)" font-size="48.57" text-anchor="end">1930</text>
<text transform="translate(1522.8 1417.2) scale(0.9615 1)" font-size="48.57" text-anchor="end">1950</text>
<text transform="translate(1648.6 1417.2) scale(0.9615 1)" font-size="48.57" text-anchor="end">1970</text>
<text transform="translate(1777.9 1417.2) scale(0.9615 1)" font-size="48.57" text-anchor="end">1990</text>
<text transform="translate(1907.8 1417.2) scale(0.9615 1)" font-size="48.57" text-anchor="end">2010</text>
</g>
<text x="975.1" y="1490.9" font-size="55.5" fill="#0a0a0a" style="font-kerning:normal">Year</text>
<text transform="translate(66.1 0) rotate(-90)" y="0" font-size="55" fill="#6B52A4" letter-spacing="-0.3"><tspan x="-1112.1">Stockholm</tspan> <tspan x="-842.1">air</tspan> <tspan x="-766.3">T</tspan> <tspan x="-720.8">(°C)</tspan> <tspan x="-611.1">DJF</tspan> <tspan x="-495.3">10</tspan> <tspan x="-419.9">p</tspan> <tspan x="-374.8">r.m.</tspan></text>
<text transform="translate(2038.9 1323.2) rotate(-90)" font-size="54.82" fill="#0a0a0a">CET air T (°C) DJF &amp; <tspan fill="#ED1C24">BWT reconstr. Gullmar Fjord</tspan></text>
<line x1="860.5" y1="1139.3" x2="942.8" y2="1139.3" stroke="#6B52A4" stroke-width="7.8" stroke-dasharray="7.8 7.75"/>
<line x1="860.5" y1="1225.1" x2="942.8" y2="1225.1" stroke="#ED1C24" stroke-width="7.9"/>
<circle cx="901.6" cy="1225.1" r="6.95" fill="#fff" stroke="#ED1C24" stroke-width="3.5"/>
<line x1="860.5" y1="1310.9" x2="942.8" y2="1310.9" stroke="#0a0a0a" stroke-width="3.6"/>
<text y="1154.8" font-size="46.6" fill="#0a0a0a"><tspan x="971.0">Stockholm</tspan> <tspan x="1199.7">DJF</tspan> <tspan x="1297.0">10p</tspan> <tspan x="1388.3">r.m.</tspan></text>
<text y="1241.9" font-size="46.6" fill="#0a0a0a"><tspan x="968.9">Gullmar</tspan> <tspan x="1144.2">Fjord,</tspan> <tspan x="1276.2">BWT</tspan> <tspan x="1389.5">(°C)</tspan> <tspan x="1484.8">reconstructed</tspan></text>
<text y="1323.4" font-size="46.6" fill="#0a0a0a"><tspan x="970.8">Central</tspan> <tspan x="1134.0">England</tspan> <tspan x="1316.8">(CET)</tspan> <tspan x="1451.5">DJF</tspan> <tspan x="1548.8">10p</tspan> <tspan x="1640.2">r.m.</tspan></text>
</svg></body></html>
